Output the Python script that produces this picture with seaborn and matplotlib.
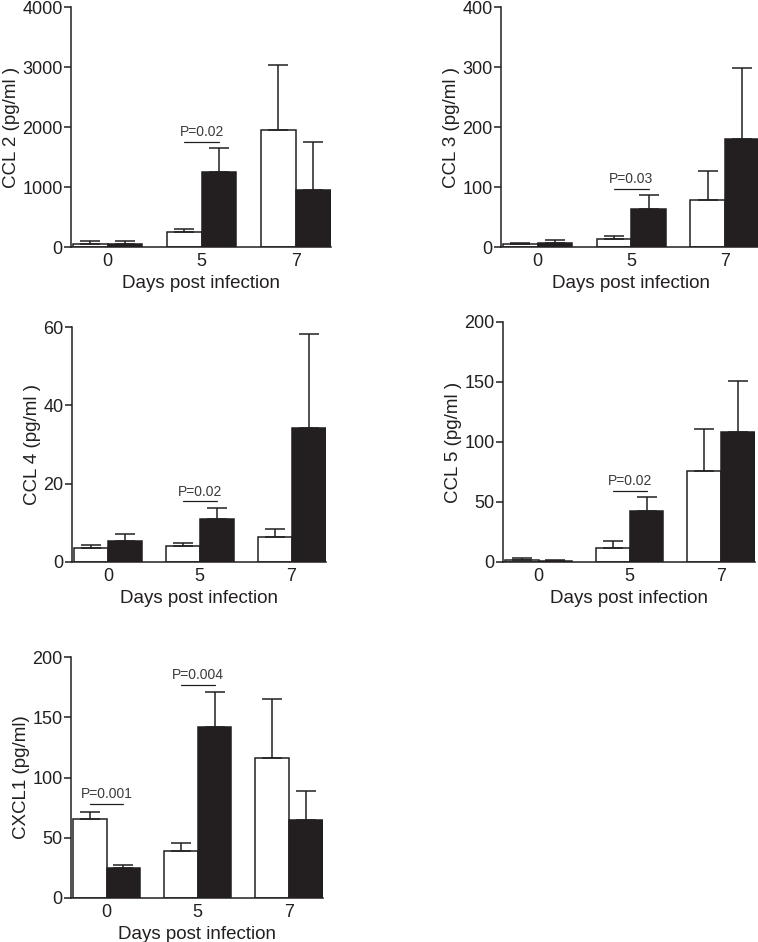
import matplotlib
matplotlib.use("Agg")
import matplotlib.pyplot as plt
import seaborn as sns
import pandas as pd

days = ["0", "5", "7"]
groups = ["open", "filled"]

# mean values and upper error (SEM)
ccl2_open = [55, 244, 1950]
ccl2_open_err = [40, 56, 1083]
ccl2_filled = [55, 1256, 950]
ccl2_filled_err = [45, 394, 794]

ccl3_open = [5, 13, 78]
ccl3_open_err = [2, 5, 48]
ccl3_filled = [7, 63, 180]
ccl3_filled_err = [4, 23, 118]

ccl4_open = [3.5, 4.1, 6.3]
ccl4_open_err = [0.8, 0.8, 2.0]
ccl4_filled = [5.4, 11.1, 34.2]
ccl4_filled_err = [1.7, 2.6, 23.9]

ccl5_open = [1.5, 11.7, 76]
ccl5_open_err = [1.5, 5.5, 34.8]
ccl5_filled = [1.2, 42.8, 108]
ccl5_filled_err = [0.8, 11.1, 43]

cxcl1_open = [65.6, 38.7, 116.5]
cxcl1_open_err = [5.5, 6.7, 48.5]
cxcl1_filled = [24.9, 141.6, 64.5]
cxcl1_filled_err = [2.5, 29.4, 24.3]

panels = [
    ("CCL 2 (pg/ml )", ccl2_open, ccl2_open_err, ccl2_filled, ccl2_filled_err,
     [0, 1000, 2000, 3000, 4000], [(1, 1755, "P=0.02")]),
    ("CCL 3 (pg/ml )", ccl3_open, ccl3_open_err, ccl3_filled, ccl3_filled_err,
     [0, 100, 200, 300, 400], [(1, 97, "P=0.03")]),
    ("CCL 4 (pg/ml )", ccl4_open, ccl4_open_err, ccl4_filled, ccl4_filled_err,
     [0, 20, 40, 60], [(1, 15.5, "P=0.02")]),
    ("CCL 5 (pg/ml )", ccl5_open, ccl5_open_err, ccl5_filled, ccl5_filled_err,
     [0, 50, 100, 150, 200], [(1, 59.4, "P=0.02")]),
    ("CXCL1 (pg/ml)", cxcl1_open, cxcl1_open_err, cxcl1_filled, cxcl1_filled_err,
     [0, 50, 100, 150, 200], [(0, 78, "P=0.001"), (1, 177, "P=0.004")]),
]

# axes boxes in pixels: left, top, right, bottom
boxes = [
    (71, 7, 331, 247),
    (501, 7, 760, 247),
    (72, 327, 326, 562),
    (503, 322, 755, 562),
    (71, 657, 323, 898),
]

sns.set_style("ticks")
plt.rcParams["font.family"] = ["Liberation Sans", "DejaVu Sans"]
ink = "#231f20"

W, H = 758, 942
fig = plt.figure(figsize=(W / 100, H / 100), dpi=100)

for (ylab, o, oe, f, fe, yticks, pvals), (l, t, r, b) in zip(panels, boxes):
    ax = fig.add_axes([l / W, 1 - b / H, (r - l) / W, (b - t) / H])
    df = pd.DataFrame({
        "day": days * 2,
        "group": [groups[0]] * 3 + [groups[1]] * 3,
        "value": o + f,
    })
    sns.barplot(data=df, x="day", y="value", hue="group", order=days,
                hue_order=groups, palette={"open": "white", "filled": ink},
                saturation=1, width=0.74, gap=0, errorbar=None,
                edgecolor=ink, linewidth=1.1, legend=False, ax=ax)
    for cont, errs in zip(ax.containers, [oe, fe]):
        for bar, e in zip(cont, errs):
            ax.errorbar(bar.get_x() + bar.get_width() / 2, bar.get_height(),
                        yerr=[[0], [e]], fmt="none", ecolor=ink,
                        elinewidth=1.1, capsize=7, capthick=1.1, zorder=1)
    for gi, yline, txt in pvals:
        b0 = ax.containers[0][gi]
        b1 = ax.containers[1][gi]
        x0 = b0.get_x() + b0.get_width() / 2
        x1 = b1.get_x() + b1.get_width() / 2
        ax.plot([x0, x1], [yline, yline], color=ink, lw=0.9)
        ax.annotate(txt, xy=((x0 + x1) / 2, yline), xytext=(0, 7),
                    textcoords="offset points", ha="center", va="center",
                    fontsize=10, color="#3a3a3a")
    ax.set_xlim(-0.39, 2.375)
    ax.set_ylim(0, yticks[-1])
    ax.set_yticks(yticks)
    ax.set_xlabel("Days post infection", fontsize=13.5, color=ink, labelpad=4)
    ax.set_ylabel(ylab, fontsize=13.5, color=ink, labelpad=2)
    ax.tick_params(axis="y", direction="out", length=5, width=1.1,
                   labelsize=13, colors=ink, pad=1)
    ax.tick_params(axis="x", length=0, labelsize=13, colors=ink, pad=4)
    sns.despine(ax=ax)
    for s in ["left", "bottom"]:
        ax.spines[s].set_linewidth(1.1)
        ax.spines[s].set_color(ink)
    ax.patch.set_alpha(0)

fig.savefig("out.png", dpi=100)
